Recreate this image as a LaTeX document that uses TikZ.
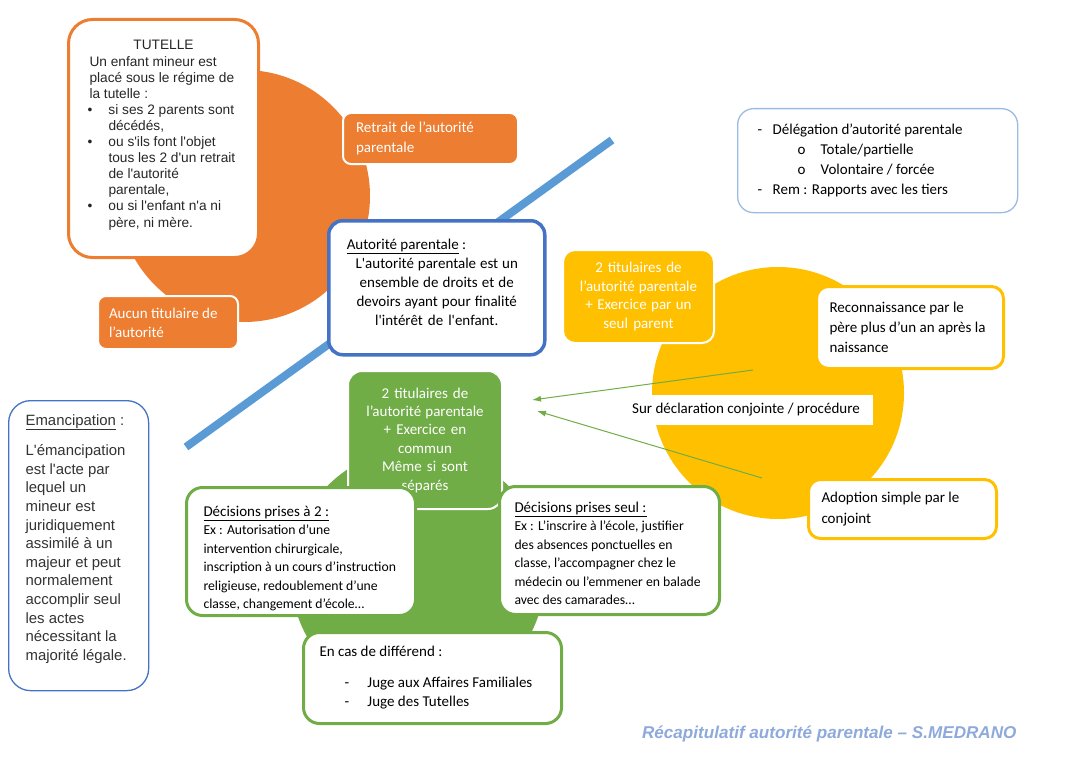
\documentclass[tikz,border=0pt]{standalone}
\usepackage{fontspec}
\setmainfont{Carlito}
\newfontfamily\arialfont{Liberation Sans}
\usetikzlibrary{arrows.meta}

\definecolor{orangeA}{HTML}{ED7D31}
\definecolor{yellowA}{HTML}{FFC000}
\definecolor{greenA}{HTML}{70AD47}
\definecolor{blueA}{HTML}{4472C4}
\definecolor{blueL}{HTML}{5B9BD5}
\definecolor{blueP}{HTML}{9BBBE0}
\definecolor{recap}{HTML}{8EA9DB}

\newcommand*{\rad}{126}
\newcommand*{\sq}{\textquotesingle}
\newcommand*{\bul}{\hspace*{-2pt}\makebox[21pt][l]{\textbullet}}
\newcommand*{\tind}{\hspace*{19pt}}

\begin{document}
\begin{tikzpicture}
[
	x=1pt, y=-1pt,
	every node/.style={inner ysep=0pt,execute at begin node={\spaceskip=0pt\xspaceskip=0pt}},
	card/.style={anchor=north west,rounded corners=14pt,fill=white,line width=3pt},
	fillcard/.style={anchor=north west,rounded corners=10pt,draw=white,line width=2pt,text=white},
	body/.style={font=\fontsize{15}{19}\selectfont},
	small/.style={font=\fontsize{13.7}{18.5}\selectfont},
	arial/.style={font=\arialfont\fontsize{13.7}{16.1}\selectfont}
]

	\useasboundingbox (0,0) rectangle (1068,773);

	% circles
	\fill[orangeA] (244,196) circle[radius=\rad pt];
	\fill[yellowA] (778,393) circle[radius=\rad pt];
	\fill[greenA] (418,575) circle[radius=127pt];

	% diagonal
	\draw[blueL,line width=8pt] (186,447) -- (612,140);

	% arrows
	\coordinate (recA) at (753,370);
	\coordinate (adoA) at (762,478);
	\coordinate (tipA) at (532,400);
	\coordinate (tipB) at (537,411);
	\draw[greenA,line width=1pt,-{Latex[length=9pt,width=6pt]}] (recA) -- (tipA);
	\draw[greenA,line width=1pt,-{Latex[length=9pt,width=6pt]}] (adoA) -- (tipB);

	% orange side
	\node[card,draw=orangeA,rounded corners=24pt,minimum width=190pt,text height=30.5pt,text depth=207.5pt,
	  inner xsep=21pt,text width=148pt,align=left,arial,text=black!85] (tutelle) at (67,18)
	  {\makebox[148pt][c]{TUTELLE}\\Un enfant mineur est\\placé sous le régime de\\la tutelle :\\
	   \bul si ses 2 parents sont\\ \tind décédés,\\
	   \bul ou s\sq ils font l\sq objet\\ \tind tous les 2 d\sq un retrait\\ \tind de l\sq autorité\\ \tind parentale,\\
	   \bul ou si l\sq enfant n\sq a ni\\ \tind père, ni mère.};
	\node[fillcard,fill=orangeA,rounded corners=8pt,minimum width=175pt,minimum height=51pt,
	  inner xsep=13pt,text width=149pt,align=left,font=\fontsize{15}{20}\selectfont] (retrait) at (342,112)
	  {Retrait de l’autorité\\parentale};
	\node[fillcard,fill=orangeA,rounded corners=8pt,minimum width=140pt,minimum height=53pt,
	  inner xsep=11pt,text width=118pt,align=left,font=\fontsize{15}{19}\selectfont] (aucun) at (97,295)
	  {Aucun titulaire de\\l’autorité};

	% centre
	\node[card,draw=blueA,line width=3.5pt,minimum width=216pt,text height=28.5pt,text depth=105.5pt,
	  inner xsep=18pt,text width=180pt,align=center,body] (autorite) at (327,219)
	  {\makebox[180pt][l]{\underline{Autorité parentale} :}\\L\sq autorité parentale est un\\ensemble de droits et de\\devoirs ayant pour finalité\\l\sq intérêt de l\sq enfant.};

	\node[card,draw=blueP,line width=1.3pt,rounded corners=16pt,minimum width=280pt,minimum height=104pt,
	  inner xsep=20pt,text width=240pt,align=left,font=\fontsize{15}{20}\selectfont] (delegation) at (737,108)
	  {\makebox[15pt][l]{-}Délégation d’autorité parentale\\
	   \hspace*{40pt}\makebox[23pt][l]{o}Totale/partielle\\
	   \hspace*{40pt}\makebox[23pt][l]{o}Volontaire / forcée\\
	   \makebox[15pt][l]{-}Rem : Rapports avec les tiers};

	% yellow side
	\node[fillcard,fill=yellowA,rounded corners=12pt,minimum width=151pt,minimum height=93pt,
	  text width=140pt,align=center,font=\fontsize{15}{18.5}\selectfont] (deuxpar) at (562,249)
	  {2 titulaires de\\l’autorité parentale\\+ Exercice par un\\seul parent};
	\node[card,draw=yellowA,rounded corners=12pt,minimum width=187pt,minimum height=82pt,
	  inner xsep=13pt,text width=161pt,align=left,font=\fontsize{15}{20}\selectfont] (reconn) at (815,285)
	  {Reconnaissance par le\\père plus d’un an après la\\naissance};
	\node[fill=white,minimum width=253pt,minimum height=30pt,body] (declar) at (746,410)
	  {Sur déclaration conjointe / procédure};
	\node[card,draw=yellowA,rounded corners=12pt,minimum width=188pt,minimum height=59pt,
	  inner xsep=13pt,text width=162pt,align=left,font=\fontsize{15}{21}\selectfont] (adoption) at (807,478)
	  {Adoption simple par le\\conjoint};

	% green side
	\node[fillcard,fill=greenA,rounded corners=14pt,minimum width=154pt,minimum height=138pt,
	  text width=144pt,align=center,font=\fontsize{15}{18.4}\selectfont] (commun) at (347,370)
	  {2 titulaires de\\l’autorité parentale\\+ Exercice en\\commun\\Même si sont\\séparés};
	\node[card,draw=greenA,rounded corners=16pt,minimum width=229pt,text height=28.5pt,text depth=99.5pt,
	  inner xsep=17pt,text width=195pt,align=left,small] (adeux) at (185,486)
	  {{\fontsize{15}{18.5}\selectfont\underline{Décisions prises à 2 :}}\\Ex : Autorisation d’une\\intervention chirurgicale,\\inscription à un cours d’instruction\\religieuse, redoublement d’une\\classe, changement d’école…};
	\node[card,draw=greenA,rounded corners=16pt,minimum width=220pt,text height=25.5pt,text depth=102.5pt,
	  inner xsep=15pt,text width=190pt,align=left,small] (seul) at (498,485)
	  {{\fontsize{15}{18.5}\selectfont\underline{Décisions prises seul :}}\\Ex : L’inscrire à l’école, justifier\\des absences ponctuelles en\\classe, l’accompagner chez le\\médecin ou l’emmener en balade\\avec des camarades…};
	\node[card,draw=greenA,rounded corners=16pt,minimum width=258pt,minimum height=91pt,
	  inner xsep=16pt,text width=226pt,align=left,body] (differend) at (302,631)
	  {En cas de différend :\\[12pt]
	   \hspace*{25pt}\makebox[23pt][l]{-}Juge aux Affaires Familiales\\
	   \hspace*{25pt}\makebox[23pt][l]{-}Juge des Tutelles};

	% emancipation
	\node[card,draw=blueA,line width=1.3pt,rounded corners=22pt,minimum width=140pt,text height=24.5pt,text depth=265.5pt,
	  inner xsep=17pt,text width=106pt,align=left,font=\arialfont\fontsize{14.9}{18.6}\selectfont,text=black!80] (emancip) at (8,400)
	  {\underline{Emancipation} :\\[12pt]L\sq émancipation\\est l\sq acte par\\lequel un\\mineur est\\juridiquement\\assimilé à un\\majeur et peut\\normalement\\accomplir seul\\les actes\\nécessitant la\\majorité légale.};

	\node[anchor=east,text=recap,font=\arialfont\bfseries\itshape\fontsize{17.1}{20}\selectfont] (recap) at (1020,734)
	  {Récapitulatif autorité parentale – S.MEDRANO};

\end{tikzpicture}
\end{document}
